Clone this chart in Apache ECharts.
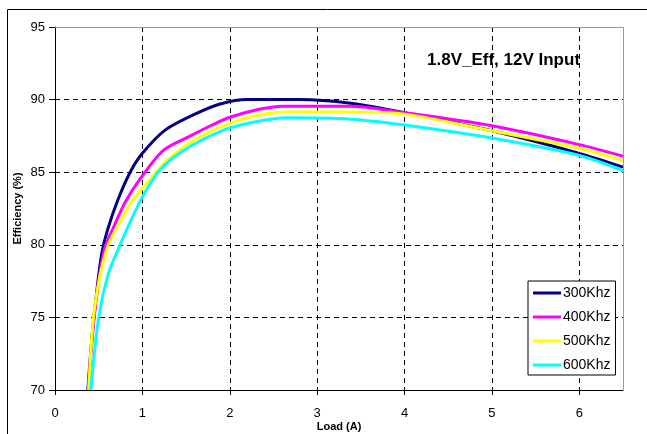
<!DOCTYPE html>
<html>
<head>
<meta charset="utf-8">
<script src="https://cdn.jsdelivr.net/npm/echarts@6/dist/echarts.min.js"></script>
<style>html,body{margin:0;padding:0;background:#fff}#c{width:647px;height:434px}</style>
</head>
<body>
<div id="c"></div>
<script>
var seriesNames = ['300Khz', '400Khz', '500Khz', '600Khz'];
var seriesColors = ['#000080', '#FF00FF', '#FFFF00', '#00FFFF'];
var xTicks = [0, 1, 2, 3, 4, 5, 6];
var yTicks = [70, 75, 80, 85, 90, 95];

var eff300 = [[0.375,70],[0.43,74.1],[0.48,76.9],[0.535,79.4],[0.6,81.0],[0.72,83.1],[0.86,85.0],[1.0,86.3],[1.26,87.9],[1.62,89.05],[1.89,89.7],[2.2,90.0],[2.8,90.0],[3.38,89.75],[4.0,89.1],[5.0,87.85],[6.0,86.3],[6.5,85.35]];
var eff400 = [[0.38,70],[0.44,74.5],[0.5,77.5],[0.57,79.8],[0.67,81.2],[0.8,82.9],[0.97,84.5],[1.24,86.5],[1.55,87.5],[1.78,88.2],[2.01,88.8],[2.31,89.3],[2.6,89.55],[3.38,89.55],[4.0,89.1],[5.0,88.2],[6.0,86.9],[6.5,86.1]];
var eff500 = [[0.385,70],[0.44,75],[0.52,78],[0.61,80],[0.71,81.2],[0.88,83.0],[1.09,84.5],[1.28,85.8],[1.59,87.2],[1.97,88.3],[2.31,88.9],[2.66,89.15],[3.38,89.15],[4.0,89.0],[5.0,87.85],[6.0,86.65],[6.5,85.8]];
var eff600 = [[0.41,70],[0.5,75],[0.61,78],[0.745,80],[0.84,81.3],[1.0,83.3],[1.2,85.15],[1.47,86.5],[1.89,87.8],[2.24,88.4],[2.66,88.75],[3.38,88.65],[4.0,88.25],[5.0,87.35],[6.0,86.15],[6.5,85.1]];
var allData = [eff300, eff400, eff500, eff600];

var chart = echarts.init(document.getElementById('c'), null, {renderer: 'canvas'});
var FONT = 'Liberation Sans, Arial, sans-serif';
var grid = {left: 55, top: 27, right: 24, bottom: 44, containLabel: false, outerBoundsMode: 'none'};

var option = {
  animation: false,
  backgroundColor: '#fff',
  title: {
    text: '1.8V_Eff, 12V Input',
    left: 422, top: 47,
    textStyle: {fontFamily: FONT, fontSize: 17, fontWeight: 'bold', color: '#000'}
  },
  legend: {
    orient: 'vertical',
    left: 528, top: 281,
    padding: [5, 5, 3, 5],
    itemGap: 10,
    itemWidth: 28, itemHeight: 3,
    icon: 'rect',
    borderColor: '#000', borderWidth: 1,
    backgroundColor: '#fff',
    textStyle: {fontFamily: FONT, fontSize: 14, color: '#000', padding: [0,0,0,-3]},
    data: seriesNames
  },
  grid: grid,
  xAxis: {
    type: 'value', min: 0, max: 6.5, interval: 1,
    name: 'Load (A)', nameLocation: 'middle', nameGap: 31, nameMoveOverlap: false,
    nameTextStyle: {fontFamily: FONT, fontSize: 11, fontWeight: 'bold', color: '#000'},
    axisLine: {show: true, onZero: false, lineStyle: {color: '#000', width: 1}},
    axisTick: {show: true, inside: false, length: 5, lineStyle: {color: '#000'}, customValues: xTicks},
    axisLabel: {fontFamily: FONT, fontSize: 13, color: '#000', margin: 17, customValues: xTicks},
    splitLine: {show: true, lineStyle: {color: '#000', type: [5, 4], width: 1}}
  },
  yAxis: {
    type: 'value', min: 70, max: 95, interval: 5,
    name: 'Efficiency (%)', nameLocation: 'middle', nameGap: 32, nameMoveOverlap: false,
    nameTextStyle: {fontFamily: FONT, fontSize: 11, fontWeight: 'bold', color: '#000'},
    axisLine: {show: true, onZero: false, lineStyle: {color: '#000', width: 1}},
    axisTick: {show: true, inside: false, length: 6, lineStyle: {color: '#000'}},
    axisLabel: {fontFamily: FONT, fontSize: 13, color: '#000', margin: 10},
    splitLine: {show: true, lineStyle: {color: '#000', type: [5, 4], width: 1}}
  },
  graphic: [
    {type: 'rect', z: 100, silent: true, shape: {x: 7.5, y: 9.5, width: 700, height: 500}, style: {fill: 'none', stroke: '#000', lineWidth: 1}},
    {type: 'polyline', z: 100, silent: true, shape: {points: [[55, 27.5], [623.5, 27.5], [623.5, 390]]}, style: {fill: 'none', stroke: '#999', lineWidth: 1}}
  ],
  series: seriesNames.map(function (n, i) {
    return {
      name: n, type: 'line', data: allData[i],
      smooth: 0.3, showSymbol: false, symbol: 'none',
      lineStyle: {color: seriesColors[i], width: 3},
      itemStyle: {color: seriesColors[i]},
      clip: true, z: 2 + i
    };
  })
};
chart.setOption(option);
</script>
</body>
</html>
